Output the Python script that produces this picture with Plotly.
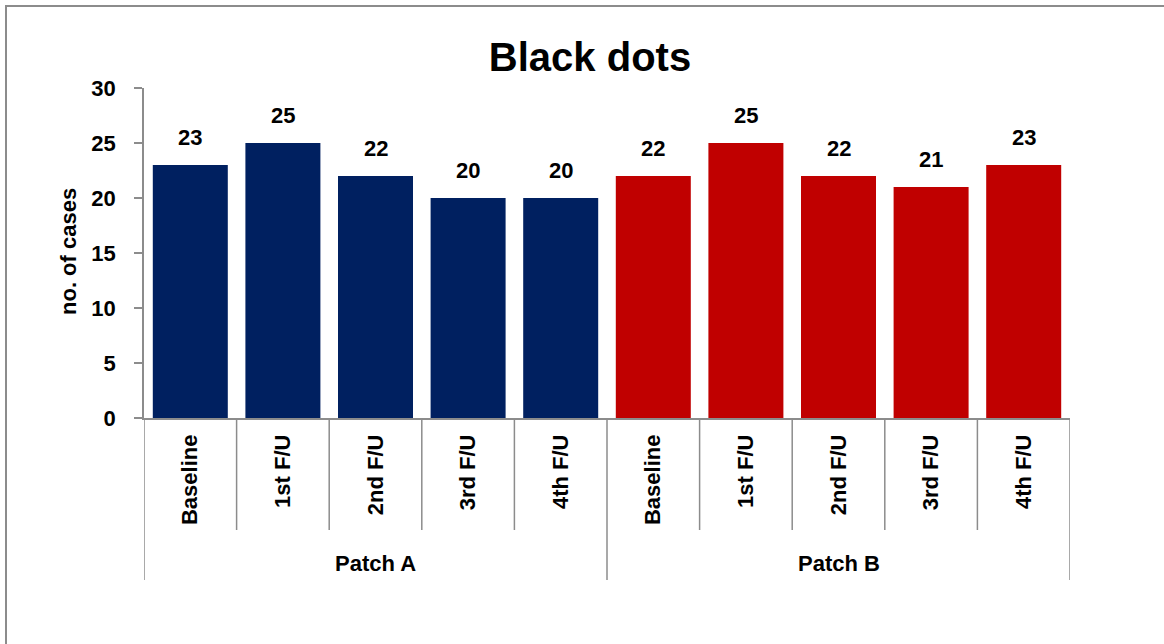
import plotly.graph_objects as go

# ---- data ----
groups = ["Patch A", "Patch B"]
visits = ["Baseline", "1st F/U", "2nd F/U", "3rd F/U", "4th F/U"]
patch_a = [23, 25, 22, 20, 20]
patch_b = [22, 25, 22, 21, 23]
colors = ["#002060", "#C00000"]
y_ticks = [0, 5, 10, 15, 20, 25, 30]

FONT = "Liberation Sans"
GRAY = "#8c8c8c"

fig = go.Figure()
series = [patch_a, patch_b]
n = len(visits)
for gi, vals in enumerate(series):
    xs = [gi * n + i for i in range(n)]
    fig.add_trace(go.Bar(x=xs, y=vals, marker=dict(color=colors[gi], line=dict(width=0)),
                         width=0.81, showlegend=False, hoverinfo="y"))
    for x, v in zip(xs, vals):
        fig.add_annotation(x=x, y=v, text=f"<b>{v}</b>", showarrow=False, yanchor="bottom",
                           yshift=13, font=dict(family=FONT, size=22, color="black"))

# sub-category tick labels
all_x = list(range(n * len(groups)))
fig.update_xaxes(range=[-0.5, n * len(groups) - 0.5], tickvals=all_x,
                 ticktext=[f"<b>{v}</b>" for _ in groups for v in visits],
                 tickangle=-90, ticks="", showline=True, linecolor=GRAY, linewidth=1.5,
                 showgrid=False, zeroline=False, ticklabelstandoff=6,
                 tickfont=dict(family=FONT, size=22, color="black"))
fig.update_yaxes(range=[0, 30], tickvals=y_ticks, ticktext=[f"<b>{t}</b>" for t in y_ticks],
                 ticks="outside", ticklen=8, tickcolor=GRAY, tickwidth=1.5,
                 showline=True, linecolor=GRAY, linewidth=1.5, showgrid=False, zeroline=False,
                 ticklabelstandoff=14, tickfont=dict(family=FONT, size=22, color="black"))

# dividers
plot_h = 330.0
plot_w = 926.0
inner_bottom = -(112 / plot_h)
outer_bottom = -(162 / plot_h)
for gi in range(len(groups)):
    for i in range(1, n):
        xb = gi * n + i - 0.5
        fig.add_shape(type="line", xref="x", yref="paper", x0=xb, x1=xb, y0=0, y1=inner_bottom,
                      line=dict(color=GRAY, width=1.5))
for gi in range(len(groups) + 1):
    xb = gi * n - 0.5
    fig.add_shape(type="line", xref="x", yref="paper", x0=xb, x1=xb, y0=0, y1=outer_bottom,
                  line=dict(color=GRAY, width=1.5))

# group labels
for gi, g in enumerate(groups):
    fig.add_annotation(x=gi * n + (n - 1) / 2, y=-(145 / plot_h), xref="x", yref="paper",
                       text=f"<b>{g}</b>", showarrow=False, yanchor="middle", xanchor="center",
                       font=dict(family=FONT, size=22, color="black"))

# y axis title
fig.add_annotation(x=-(76 / plot_w), y=(418 - 252) / plot_h, xref="paper", yref="paper",
                   text="<b>no. of cases</b>", textangle=-90, showarrow=False,
                   xanchor="center", yanchor="middle",
                   font=dict(family=FONT, size=22, color="black"))

# chart border (partially outside view)
fig.add_shape(type="rect", xref="paper", yref="paper",
              x0=-(138 / plot_w), x1=1.12, y0=-0.72, y1=(412 / plot_h),
              line=dict(color=GRAY, width=2), fillcolor="rgba(0,0,0,0)", layer="below")

fig.update_layout(
    width=1164, height=644,
    margin=dict(l=144, r=94, t=88, b=226),
    paper_bgcolor="white", plot_bgcolor="white",
    title=dict(text="<b>Black dots</b>", x=590 / 1164, xref="container", y=1 - 57 / 644,
               yref="container", xanchor="center", yanchor="middle",
               font=dict(family=FONT, size=40, color="black")),
    bargap=0.19,
)

fig.write_html("out.html", config={"displayModeBar": False},
               post_script="document.body.style.margin='0';")
